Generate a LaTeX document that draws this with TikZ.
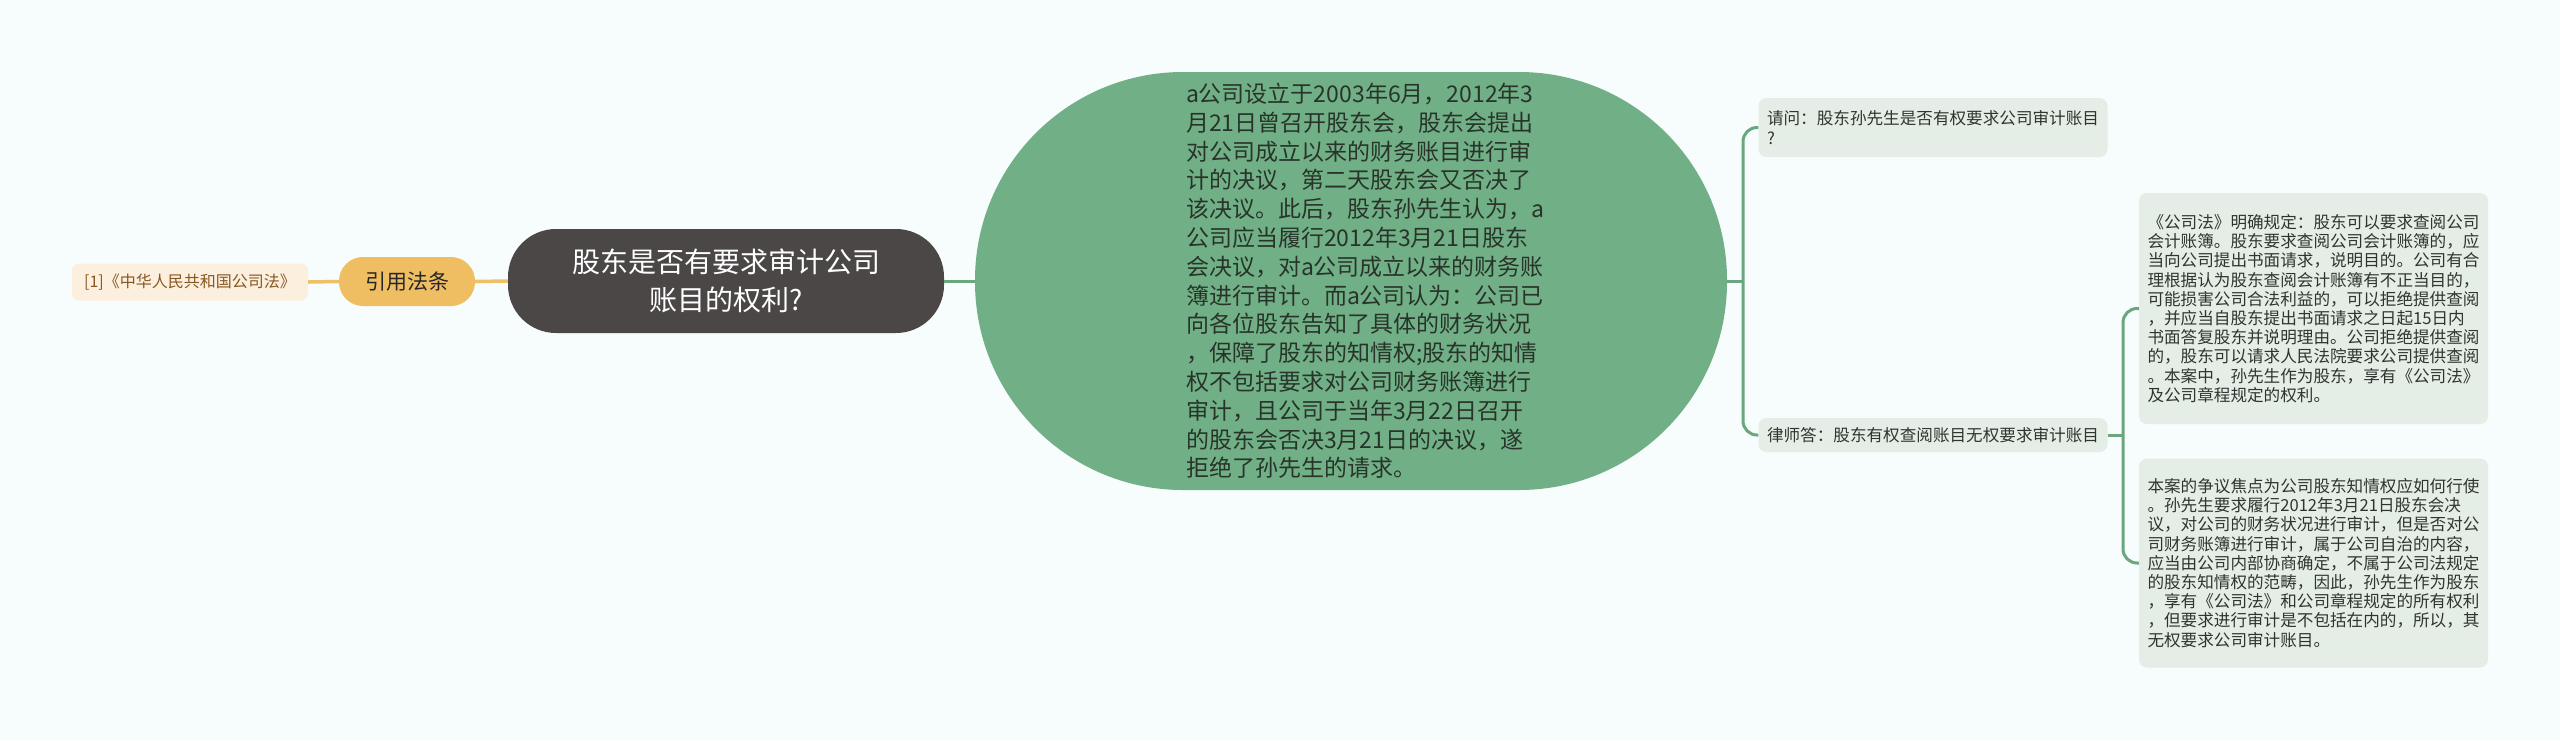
\documentclass[tikz,border=0pt]{standalone}
\usepackage{fontspec}
\setmainfont{Noto Sans CJK SC}
\definecolor{bgc}{RGB}{247,252,252}
\definecolor{greenfill}{RGB}{113,176,134}
\definecolor{rootfill}{RGB}{76,71,71}
\definecolor{orangefill}{RGB}{240,190,98}
\definecolor{citefill}{RGB}{252,239,222}
\definecolor{citetext}{RGB}{135,88,35}
\definecolor{boxfill}{RGB}{228,238,230}
\definecolor{gline}{RGB}{106,166,126}
\definecolor{oline}{RGB}{238,193,105}
\definecolor{darktext}{RGB}{40,52,42}
\definecolor{boxtext}{RGB}{48,52,48}
\tikzset{
  citebox/.style={draw=none, fill=citefill, text=citetext, rounded corners=7pt,
    inner sep=0pt, minimum width=236pt, minimum height=37pt,
    font=\fontsize{16}{19}\selectfont},
  pillbox/.style={draw=none, fill=orangefill, text=black!85, rounded corners=24pt,
    inner sep=0pt, minimum width=136pt, minimum height=49pt,
    font=\fontsize{21}{25}\selectfont},
  rootbox/.style={draw=none, fill=rootfill, text=white, rounded corners=48pt,
    inner sep=0pt, minimum width=436pt, minimum height=104pt, align=center,
    font=\fontsize{28}{38}\selectfont},
  mainbox/.style={draw=none, fill=greenfill, rounded corners=208pt,
    inner sep=0pt, minimum width=752pt, minimum height=418pt},
  maintext/.style={text=darktext, inner sep=0pt, text width=350pt,
    align=left, font=\fontsize{23}{28.8}\selectfont},
  rbox/.style={draw=none, fill=boxfill, text=boxtext, rounded corners=8pt,
    inner sep=0pt, minimum width=349pt, text width=332pt, align=left,
    font=\fontsize{16.6}{19.2}\selectfont},
  oconn/.style={draw=oline, line width=3.5pt},
  gconn/.style={draw=gline, line width=3pt}
}
\begin{document}
\begin{tikzpicture}[x=1pt,y=-1pt]
\useasboundingbox[fill=bgc] (0,0) rectangle (2560,740);

\node[citebox] (cite) at (190,282) {[1]《中华人民共和国公司法》};
\node[pillbox] (ref) at (407,281.5) {引用法条};
\node[rootbox] (root) at (726,281) {股东是否有要求审计公司\\账目的权利?};
\node[mainbox] (main) at (1351,281) {};
\node[maintext] (maintxt) at (1361,281) {a公司设立于2003年6月，2012年3\\月21日曾召开股东会，股东会提出\\对公司成立以来的财务账目进行审\\计的决议，第二天股东会又否决了\\该决议。此后，股东孙先生认为，a\\公司应当履行2012年3月21日股东\\会决议，对a公司成立以来的财务账\\簿进行审计。而a公司认为：公司已\\向各位股东告知了具体的财务状况\\，保障了股东的知情权;股东的知情\\权不包括要求对公司财务账簿进行\\审计，且公司于当年3月22日召开\\的股东会否决3月21日的决议，遂\\拒绝了孙先生的请求。};

\node[rbox, minimum height=59pt] (q) at (1933,127.5) {请问：股东孙先生是否有权要求公司审计账目\\?};
\node[rbox, minimum height=34pt] (a) at (1933,435) {律师答：股东有权查阅账目无权要求审计账目};
\node[rbox, minimum height=231pt] (r1) at (2313.5,308.5) {《公司法》明确规定：股东可以要求查阅公司\\会计账簿。股东要求查阅公司会计账簿的，应\\当向公司提出书面请求，说明目的。公司有合\\理根据认为股东查阅会计账簿有不正当目的，\\可能损害公司合法利益的，可以拒绝提供查阅\\，并应当自股东提出书面请求之日起15日内\\书面答复股东并说明理由。公司拒绝提供查阅\\的，股东可以请求人民法院要求公司提供查阅\\。本案中，孙先生作为股东，享有《公司法》\\及公司章程规定的权利。};
\node[rbox, minimum height=209pt] (r2) at (2313.5,563) {本案的争议焦点为公司股东知情权应如何行使\\。孙先生要求履行2012年3月21日股东会决\\议，对公司的财务状况进行审计，但是否对公\\司财务账簿进行审计，属于公司自治的内容，\\应当由公司内部协商确定，不属于公司法规定\\的股东知情权的范畴，因此，孙先生作为股东\\，享有《公司法》和公司章程规定的所有权利\\，但要求进行审计是不包括在内的，所以，其\\无权要求公司审计账目。};

\draw[oconn] (cite.east) -- (ref.west);
\draw[oconn] (ref.east) -- (root.west);
\draw[gconn] (root.east) -- (main.west);

\coordinate (j1) at (1743,281);
\draw[gconn] (main.east) -- (j1);
\draw[gconn, rounded corners=14pt] (q.west) -| (j1) |- (a.west);

\coordinate (j2) at (2123,435);
\draw[gconn] (a.east) -- (j2);
\draw[gconn, rounded corners=14pt] (r1.west) -| (j2) |- (r2.west);
\end{tikzpicture}
\end{document}
